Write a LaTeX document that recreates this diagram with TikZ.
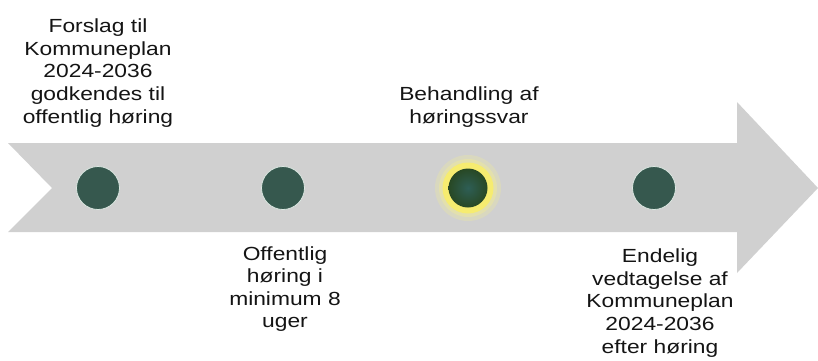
\documentclass[tikz,border=0pt]{standalone}
\usepackage{fontspec}
\setmainfont{Liberation Sans}[FakeStretch=1.2]
\definecolor{band}{RGB}{208,208,208}
\definecolor{dotgreen}{RGB}{54,88,78}
\definecolor{dotedge}{RGB}{220,232,226}
\definecolor{ringyellow}{RGB}{246,236,112}
\definecolor{glowyellow}{RGB}{236,232,160}
\definecolor{darkolive}{RGB}{40,72,36}
\definecolor{txt}{RGB}{20,20,20}
\begin{document}
\begin{tikzpicture}[x=1pt,y=-1pt,
  milestone/.style={circle,fill=dotgreen,draw=dotedge,line width=0.8pt,minimum size=43pt,inner sep=0pt},
  label/.style={align=center,text=txt,font=\fontsize{19}{22.6}\selectfont,inner sep=0pt}]
\useasboundingbox (0,0) rectangle (818,360);
% arrow body
\fill[band] (8,143) -- (737,143) -- (737,102) -- (818,188) -- (737,273) -- (737,232) -- (8,232) -- (52,188) -- cycle;
% milestones
\node[milestone] (m1) at (98,188) {};
\node[milestone] (m2) at (283,188) {};
\node[milestone] (m4) at (654,188) {};
% highlighted milestone
\fill[glowyellow,opacity=0.35] (468,188) circle (33);
\fill[glowyellow,opacity=0.55] (468,188) circle (29);
\fill[ringyellow] (468,188) circle (25.5);
\node[circle,minimum size=39pt,inner sep=0pt,inner color=dotgreen!85!teal,outer color=darkolive] (m3) at (468,188) {};
% labels
\node[label] (t1) at (98,73) {Forslag til\\Kommuneplan\\2024-2036\\godkendes til\\offentlig høring};
\node[label] (t2) at (285,289) {Offentlig\\høring i\\minimum 8\\uger};
\node[label] (t3) at (469,107) {Behandling af\\høringssvar};
\node[label] (t4) at (660,303) {Endelig\\vedtagelse af\\Kommuneplan\\2024-2036\\efter høring};
\end{tikzpicture}
\end{document}
